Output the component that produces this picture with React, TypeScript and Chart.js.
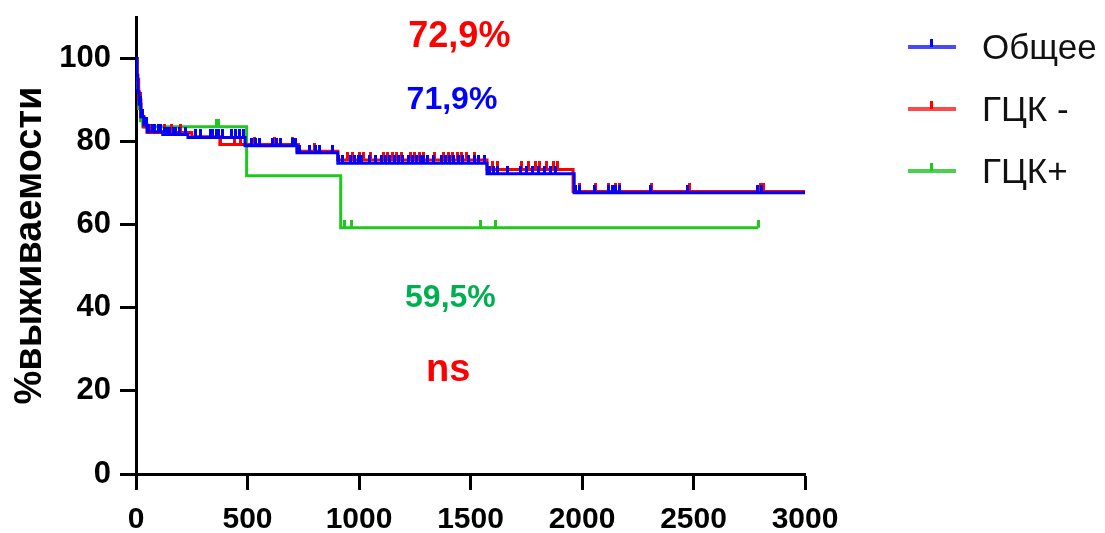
import React, { useEffect, useRef } from 'react';
import { Chart, registerables } from 'chart.js';
Chart.register(...registerables);

// ---- Data ----
const seriesNames = ['Общее', 'ГЦК -', 'ГЦК+'];
const xTickValues = [0, 500, 1000, 1500, 2000, 2500, 3000];
const yTickValues = [0, 20, 40, 60, 80, 100];

// Overall (blue): time (days), survival (%)
const overallTimes = [0, 4, 8, 14, 22, 35, 50, 120, 233, 489, 722, 905, 1574, 1965, 3000];
const overallSurv = [100, 96, 92, 89, 86, 84, 82.4, 81.7, 81.0, 79.0, 77.3, 74.8, 72.3, 67.7, 67.7];
const overallCensor = [18, 31, 45, 58, 72, 85, 99, 112, 126, 139, 152, 166, 179, 197, 220, 265, 287, 332, 345, 359, 372, 386, 430, 448, 466, 484, 520, 538, 556, 610, 628, 646, 700, 717, 735, 780, 803, 825, 879, 906, 924, 960, 978, 996, 1013, 1049, 1072, 1103, 1121, 1139, 1157, 1175, 1193, 1220, 1238, 1256, 1274, 1291, 1309, 1336, 1372, 1390, 1408, 1426, 1444, 1462, 1489, 1516, 1534, 1561, 1587, 1605, 1623, 1668, 1722, 1749, 1776, 1803, 1830, 1857, 1883, 1969, 1991, 2054, 2117, 2135, 2152, 2170, 2305, 2475, 2789, 2807];

// ГЦК - (red)
const gckNegTimes = [0, 5, 12, 22, 35, 50, 250, 376, 722, 905, 1574, 1960, 3000];
const gckNegSurv = [100, 95, 90, 86, 83.5, 82.2, 81.2, 79.3, 77.7, 75.6, 73.3, 68.0, 68.0];
const gckNegCensor = [20, 40, 60, 80, 100, 130, 160, 200, 360, 380, 440, 470, 530, 620, 700, 730, 800, 950, 970, 1000, 1020, 1050, 1110, 1130, 1150, 1170, 1190, 1230, 1250, 1270, 1290, 1340, 1380, 1400, 1420, 1440, 1460, 1480, 1520, 1600, 1620, 1730, 1760, 1790, 1810, 1840, 1870, 1890, 1990, 2060, 2120, 2150, 2170, 2310, 2480, 2800, 2815];

// ГЦК+ (green)
const gckPosTimes = [0, 6, 12, 20, 30, 496, 918, 2790];
const gckPosSurv = [100, 93, 88, 85, 83.6, 71.8, 59.3, 59.3];
const gckPosCensor = [360, 372, 935, 965, 1545, 1610, 2790];

// Annotations
const annotationTexts = ['72,9%', '71,9%', '59,5%', 'ns'];

const colors = ['#0000ff', '#ff0000', '#1ec81e'];
const legendColors = ['#4848ff', '#ff4848', '#4ccf4c'];

function survAt(times: number[], surv: number[], t: number) {
  let v = surv[0];
  for (let i = 0; i < times.length; i++) {
    if (times[i] <= t) v = surv[i];
  }
  return v;
}

function makeTick(color: string) {
  const c = document.createElement('canvas');
  c.width = 3;
  c.height = 16;
  const ctx = c.getContext('2d')!;
  ctx.fillStyle = color;
  ctx.fillRect(0, 0, 3, 8);
  return c;
}

export default function App() {
  const ref = useRef<HTMLCanvasElement | null>(null);
  useEffect(() => {
    document.body.style.margin = '0';
    const canvas = ref.current!;
    const lineSets = [
      [overallTimes, overallSurv, overallCensor],
      [gckNegTimes, gckNegSurv, gckNegCensor],
      [gckPosTimes, gckPosSurv, gckPosCensor],
    ] as number[][][];
    const datasets: any[] = [];
    lineSets.forEach(([times, surv, cens], i) => {
      datasets.push({
        label: seriesNames[i],
        data: times.map((t, k) => ({ x: t, y: surv[k] })),
        borderColor: colors[i],
        backgroundColor: colors[i],
        borderWidth: 3,
        stepped: true,
        pointRadius: 0,
        fill: false,
        order: i,
      });
      const tick = makeTick(colors[i]);
      datasets.push({
        label: seriesNames[i] + ' censored',
        data: cens.map((t) => ({ x: t, y: survAt(times, surv, t) })),
        showLine: false,
        pointStyle: tick,
        pointRadius: 3,
        borderColor: colors[i],
        backgroundColor: colors[i],
        order: i,
      });
    });

    const font = 'Liberation Sans, Arial, sans-serif';

    const overlay = {
      id: 'overlay',
      afterDraw(chart: any) {
        const ctx = chart.ctx;
        const xs = chart.scales.x;
        const ys = chart.scales.y;
        ctx.save();
        // annotations
        const ann = [
          { t: annotationTexts[0], x: 1450, y: 105.2, c: '#ff0000', s: 36 },
          { t: annotationTexts[1], x: 1417, y: 90.1, c: '#0000ff', s: 32 },
          { t: annotationTexts[2], x: 1410, y: 42.3, c: '#00b050', s: 32 },
          { t: annotationTexts[3], x: 1400, y: 25.0, c: '#ff0000', s: 38 },
        ];
        ctx.textAlign = 'center';
        ctx.textBaseline = 'middle';
        ann.forEach((a) => {
          ctx.fillStyle = a.c;
          ctx.font = `bold ${a.s}px ${font}`;
          ctx.fillText(a.t, xs.getPixelForValue(a.x), ys.getPixelForValue(a.y));
        });
        // legend
        const ly = [47, 109, 171];
        ctx.textAlign = 'left';
        ctx.font = `35px ${font}`;
        seriesNames.forEach((n, i) => {
          ctx.strokeStyle = legendColors[i];
          ctx.lineWidth = 4;
          ctx.beginPath();
          ctx.moveTo(908, ly[i]);
          ctx.lineTo(956, ly[i]);
          ctx.stroke();
          ctx.fillStyle = colors[i];
          ctx.fillRect(930, ly[i] - 8, 3, 8);
          ctx.fillStyle = '#111';
          ctx.fillText(n, 982, ly[i] + 2);
        });
        ctx.restore();
      },
    };

    const chart = new Chart(canvas, {
      type: 'line',
      data: { datasets },
      options: {
        animation: false,
        responsive: false,
        devicePixelRatio: 1,
        layout: { padding: { top: 17, right: 300, left: 0, bottom: 0 } },
        plugins: { legend: { display: false }, tooltip: { enabled: false } },
        scales: {
          x: {
            type: 'linear',
            min: 0,
            max: 3000,
            afterBuildTicks: (s: any) => { s.ticks = xTickValues.map((v) => ({ value: v })); },
            afterFit: (s: any) => { s.height = 59; s.paddingLeft = 0; s.paddingRight = 0; },
            grid: { drawOnChartArea: false, drawTicks: true, tickLength: 16, tickWidth: 3, tickColor: '#000' },
            border: { display: true, color: '#000', width: 3 },
            ticks: {
              color: '#000',
              padding: 12,
              maxRotation: 0,
              callback: (v: any) => String(v),
              font: { family: font, size: 30, weight: 'bold' },
            },
          },
          y: {
            type: 'linear',
            min: 0,
            max: 110,
            afterBuildTicks: (s: any) => { s.ticks = yTickValues.map((v) => ({ value: v })); },
            afterFit: (s: any) => { s.width = 136; s.paddingTop = 0; s.paddingBottom = 0; },
            grid: { drawOnChartArea: false, drawTicks: true, tickLength: 16, tickWidth: 3, tickColor: '#000' },
            border: { display: true, color: '#000', width: 3 },
            ticks: { color: '#000', padding: 9, font: { family: font, size: 31, weight: 'bold' } },
            title: {
              display: true,
              text: '%выживаемости',
              color: '#000',
              padding: { top: 8, bottom: 0 },
              font: { family: font, size: 38, weight: 'bold' },
            },
          },
        },
      },
      plugins: [overlay],
    } as any);
    return () => chart.destroy();
  }, []);
  return (
    <div style={{ width: 1105, height: 533 }}>
      <canvas ref={ref} width={1105} height={533} />
    </div>
  );
}
